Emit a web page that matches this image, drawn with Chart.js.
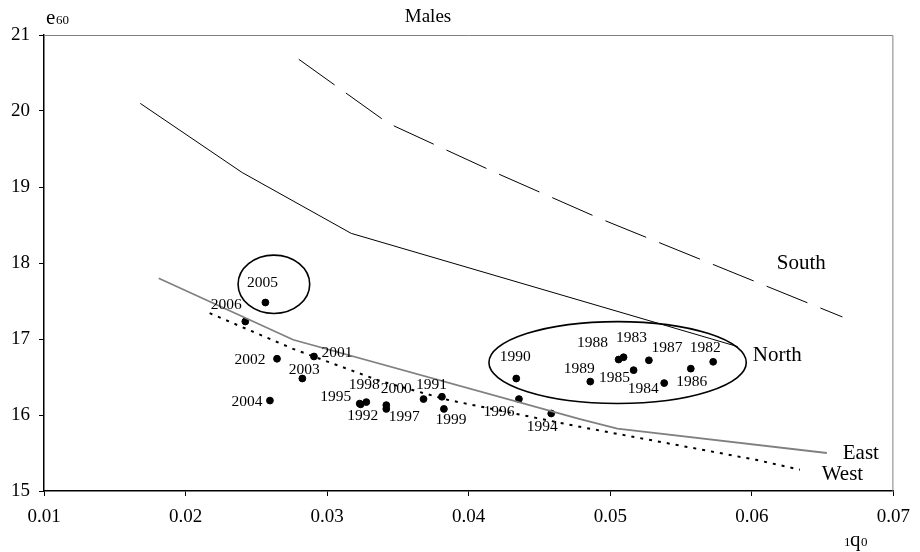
<!DOCTYPE html>
<html><head><meta charset="utf-8">
<script src="https://cdn.jsdelivr.net/npm/chart.js@4.4.1/dist/chart.umd.min.js"></script>
<style>html,body{margin:0;padding:0;background:#fff}</style>
</head><body>
<canvas id="c" width="920" height="552"></canvas>
<script>
// ---- data ----
const years = [1982,1983,1984,1985,1986,1987,1988,1989,1990,1991,1992,1993,1994,1995,1996,1997,1998,1999,2000,2001,2002,2003,2004,2005,2006];
const q0Values = [0.05727,0.05094,0.05381,0.05165,0.05569,0.05273,0.05059,0.04859,0.04336,0.03681,0.03237,0.03811,0.04583,0.03230,0.04355,0.03418,0.03277,0.03825,0.03418,0.02907,0.02646,0.02825,0.02596,0.02564,0.02422];
const e60Values = [16.70,16.76,16.42,16.59,16.61,16.72,16.73,16.44,16.48,16.21,16.14,16.24,16.02,16.15,16.21,16.08,16.17,16.08,16.13,16.77,16.74,16.48,16.19,17.48,17.23];

const southQ0 = [0.0280,0.0343,0.0420,0.0492,0.0664];
const southE60 = [20.68,19.84,19.18,18.59,17.29];
const northQ0 = [0.0168,0.0240,0.0317,0.0590];
const northE60 = [20.10,19.19,18.39,16.90];
const eastQ0 = [0.0181,0.0276,0.0478,0.0505,0.0653];
const eastE60 = [17.80,16.99,15.95,15.82,15.50];
const westQ0 = [0.0217,0.0276,0.0337,0.0385,0.0477,0.0603,0.0634];
const westE60 = [17.34,16.87,16.45,16.20,15.85,15.41,15.28];

const xTicks = [0.01,0.02,0.03,0.04,0.05,0.06,0.07];
const yTicks = [15,16,17,18,19,20,21];

// annotations (data units)
const regionNames = ['South','North','East','West'];
const regionLabelQ0 = [0.0635,0.0618,0.0677,0.0664];
const regionLabelE60 = [18.00,16.78,15.50,15.22];
const ellipseCq0 = [0.02624,0.05052];
const ellipseCe60 = [17.72,16.69];
const ellipseRq0 = [0.00253,0.00909];
const ellipseRe60 = [0.384,0.539];

// label offsets (px) for year labels, styling only
const labelOffsets = {
 1982:[-8,-14],1983:[8,-19],1984:[-21,6],1985:[-19,8],1986:[1,13],1987:[18,-12],1988:[-26,-17],1989:[-11,-13],1990:[-1,-22],
 1991:[8,-14],1992:[2,12],1994:[-9,13],1995:[-24,-7],1996:[-20,13],1997:[18,8],1998:[-2,-17],1999:[7,11],2000:[10,-16],
 2001:[23,-4],2002:[-27,1],2003:[2,-9],2004:[-23,1],2005:[-3,-20],2006:[-19,-17]
};

const toPts = (xs, ys) => xs.map((x,i)=>({x:x,y:ys[i]}));
const SERIF = '"Liberation Serif","Times New Roman",serif';

const overlay = {
  id:'overlay',
  beforeDatasetsDraw(chart){
    const {ctx, chartArea:a} = chart;
    ctx.save();
    ctx.strokeStyle = '#808080'; ctx.lineWidth = 1;
    ctx.beginPath();
    ctx.moveTo(a.left, a.top+0.5); ctx.lineTo(a.right-0.5, a.top+0.5); ctx.lineTo(a.right-0.5, a.bottom);
    ctx.stroke();
    ctx.restore();
  },
  afterDatasetsDraw(chart){
    const {ctx} = chart;
    const xs = chart.scales.x, ys = chart.scales.y;
    ctx.save();
    ctx.strokeStyle = '#000'; ctx.lineWidth = 1.6;
    for(let i=0;i<ellipseCq0.length;i++){
      const cx = xs.getPixelForValue(ellipseCq0[i]), cy = ys.getPixelForValue(ellipseCe60[i]);
      const rx = Math.abs(xs.getPixelForValue(ellipseCq0[i]+ellipseRq0[i]) - cx);
      const ry = Math.abs(ys.getPixelForValue(ellipseCe60[i]+ellipseRe60[i]) - cy);
      ctx.beginPath(); ctx.ellipse(cx, cy, rx, ry, 0, 0, Math.PI*2); ctx.stroke();
    }
    ctx.fillStyle = '#000'; ctx.font = '15.5px '+SERIF; ctx.textAlign='center'; ctx.textBaseline='middle';
    years.forEach((yr,i)=>{
      const off = labelOffsets[yr]; if(!off) return;
      const px = xs.getPixelForValue(q0Values[i]), py = ys.getPixelForValue(e60Values[i]);
      ctx.fillText(String(yr), px+off[0], py+off[1]);
    });
    ctx.font = '21px '+SERIF;
    regionNames.forEach((n,i)=>{
      ctx.fillText(n, xs.getPixelForValue(regionLabelQ0[i]), ys.getPixelForValue(regionLabelE60[i]));
    });
    ctx.font = '19px '+SERIF; ctx.textBaseline='alphabetic';
    ctx.fillText('Males', 428, 22);
    ctx.textAlign='left';
    ctx.font = '21px '+SERIF; ctx.fillText('e', 46, 24);
    ctx.font = '13px '+SERIF; ctx.fillText('60', 56, 24);
    ctx.font = '13px '+SERIF; ctx.fillText('1', 844, 546);
    ctx.font = '21px '+SERIF; ctx.fillText('q', 850, 546);
    ctx.font = '13px '+SERIF; ctx.fillText('0', 861, 546);
    ctx.restore();
  }
};

new Chart(document.getElementById('c'), {
  type:'scatter',
  data:{datasets:[
    {label:'South', data:toPts(southQ0,southE60), showLine:true, borderColor:'#000', borderWidth:1, borderDash:[44,14], pointRadius:0, fill:false},
    {label:'North', data:toPts(northQ0,northE60), showLine:true, borderColor:'#000', borderWidth:1, pointRadius:0, fill:false},
    {label:'East', data:toPts(eastQ0,eastE60), showLine:true, borderColor:'#808080', borderWidth:1.8, pointRadius:0, fill:false},
    {label:'West', data:toPts(westQ0,westE60), showLine:true, borderColor:'#000', borderWidth:2, borderDash:[3,6], pointRadius:0, fill:false},
    {label:'Years', data:toPts(q0Values,e60Values), showLine:false, backgroundColor:'#000', borderColor:'#000', pointRadius:3.4, pointHoverRadius:3.4}
  ]},
  options:{
    responsive:false, animation:false, devicePixelRatio:1,
    layout:{padding:{top:35,right:26,left:0,bottom:0}},
    plugins:{legend:{display:false}, tooltip:{enabled:false}, title:{display:false}},
    scales:{
      x:{type:'linear', min:0.01, max:0.07,
        afterFit(s){ s.height = 61; },
        afterBuildTicks(s){ s.ticks = xTicks.map(v=>({value:v})); },
        ticks:{callback:v=>v.toFixed(2), color:'#000', font:{family:SERIF, size:19}, padding:10, maxRotation:0},
        grid:{display:true, drawOnChartArea:false, drawTicks:true, tickLength:5, tickColor:'#000'},
        border:{display:true, color:'#000', width:1.5}
      },
      y:{type:'linear', min:15, max:21,
        afterFit(s){ s.width = 44; },
        afterBuildTicks(s){ s.ticks = yTicks.map(v=>({value:v})); },
        ticks:{callback:v=>String(v), color:'#000', font:{family:SERIF, size:19}, padding:9},
        grid:{display:true, drawOnChartArea:false, drawTicks:true, tickLength:5, tickColor:'#000'},
        border:{display:true, color:'#000', width:1.5}
      }
    }
  },
  plugins:[overlay]
});
</script>
</body></html>
